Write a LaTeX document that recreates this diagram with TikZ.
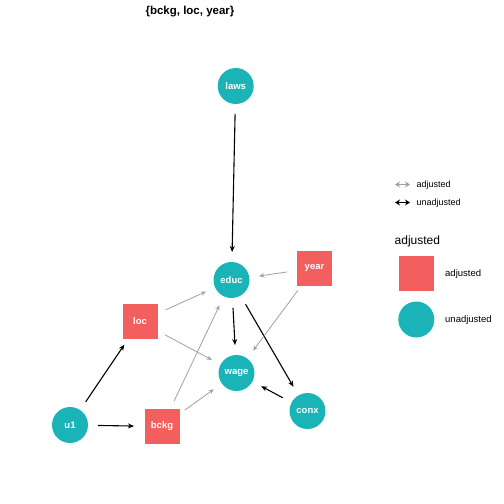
\documentclass[tikz,border=0pt]{standalone}
\usepackage{fontspec}
\setmainfont{Liberation Sans}
\usetikzlibrary{arrows.meta}
\definecolor{adjc}{RGB}{243,95,94}
\definecolor{unadjc}{RGB}{26,179,184}
\definecolor{edgegray}{RGB}{160,160,160}
\tikzset{
  x=1pt, y=-1pt,
  adjnode/.style={rectangle, fill=adjc, minimum size=35pt, inner sep=0pt, text=white, font=\fontsize{9.5}{9.5}\selectfont\bfseries},
  unadjnode/.style={circle, fill=unadjc, minimum size=36pt, inner sep=0pt, text=white, font=\fontsize{9.5}{9.5}\selectfont\bfseries},
  blk/.style={draw=black, line width=1.1pt, -{Stealth[length=6pt,width=5pt]}, shorten >=28pt, shorten <=28pt},
  gry/.style={draw=edgegray, line width=0.8pt, -{Stealth[length=5pt,width=4.5pt]}, shorten >=28pt, shorten <=28pt},
  legtext/.style={font=\fontsize{9.5}{9.5}\selectfont, anchor=west, inner sep=0pt},
  legarrow/.style={{Stealth[open,length=5pt,width=6pt]}-{Stealth[open,length=5pt,width=6pt]}}
}
\begin{document}
\begin{tikzpicture}
\useasboundingbox (0,0) rectangle (504,504);
\node[font=\fontsize{11.5}{11.5}\selectfont\bfseries] (title) at (190,12) {\{bckg, loc, year\}};
% nodes
\node[unadjnode] (laws) at (235.7,86) {laws};
\node[unadjnode] (educ) at (231.5,280) {educ};
\node[unadjnode] (wage) at (236.5,373) {wage};
\node[unadjnode] (conx) at (307.5,411) {conx};
\node[unadjnode] (u1) at (70,425) {u1};
\node[adjnode] (bckg) at (162,426.5) {bckg};
\node[adjnode] (loc) at (140,321.5) {loc};
\node[adjnode] (year) at (314.5,268) {year};
% edges
\draw[blk] (laws.center) -- (educ.center);
\draw[blk] (educ.center) -- (wage.center);
\draw[blk] (educ.center) -- (conx.center);
\draw[blk] (conx.center) -- (wage.center);
\draw[blk] (u1.center) -- (loc.center);
\draw[blk] (u1.center) -- (bckg.center);
\draw[gry] (loc.center) -- (educ.center);
\draw[gry] (loc.center) -- (wage.center);
\draw[gry] (bckg.center) -- (educ.center);
\draw[gry] (bckg.center) -- (wage.center);
\draw[gry] (year.center) -- (educ.center);
\draw[gry] (year.center) -- (wage.center);
% legend: edges
\coordinate (la1) at (395,184.5);
\coordinate (lb1) at (410,184.5);
\coordinate (la2) at (395,202.5);
\coordinate (lb2) at (410,202.5);
\draw[draw=edgegray, line width=0.9pt, legarrow] (la1) -- (lb1);
\draw[draw=black, line width=1.4pt, legarrow] (la2) -- (lb2);
\node[legtext, font=\fontsize{9}{9}\selectfont] (lt1) at (416.5,185) {adjusted};
\node[legtext, font=\fontsize{9}{9}\selectfont] (lt2) at (416.5,203) {unadjusted};
% legend: nodes
\node[legtext, font=\fontsize{12}{12}\selectfont] (lhead) at (394.5,241.5) {adjusted};
\node[adjnode] (lsq) at (416.3,273.5) {};
\node[unadjnode] (lci) at (416.3,319.5) {};
\node[legtext] (ltxa) at (445,274.5) {adjusted};
\node[legtext] (ltxu) at (445,320) {unadjusted};
\end{tikzpicture}
\end{document}
